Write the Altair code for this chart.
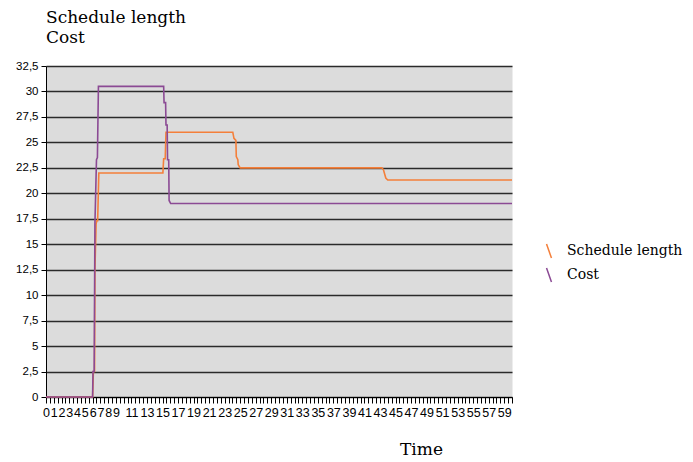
import altair as alt
import pandas as pd

# Series (time, value)
time_sched = [0, 6.0, 6.1, 6.25, 6.3, 6.45, 6.55, 6.65, 6.8, 15.05, 15.15, 15.35, 15.45, 24.05, 24.2, 24.45, 24.5, 24.7, 24.75, 25.0, 43.25, 43.45, 43.75, 44.0, 60]
val_sched = [0, 0, 2.5, 2.5, 12.5, 17.0, 17.3, 17.3, 22.0, 22.0, 23.4, 23.4, 26.0, 26.0, 25.4, 25.2, 23.6, 23.3, 22.8, 22.5, 22.5, 22.3, 21.5, 21.3, 21.3]

time_cost = [0, 6.0, 6.05, 6.2, 6.3, 6.5, 6.62, 6.75, 15.15, 15.2, 15.4, 15.45, 15.6, 15.65, 15.8, 15.85, 16.05, 60]
val_cost = [0, 0, 2.5, 2.5, 17.0, 23.3, 23.5, 30.5, 30.5, 28.9, 28.9, 26.7, 26.7, 23.3, 23.3, 19.3, 19.0, 19.0]

series_names = ["Schedule length", "Cost"]
series_colors = ["#F47F3A", "#8B4A94"]

y_ticks = [0, 2.5, 5, 7.5, 10, 12.5, 15, 17.5, 20, 22.5, 25, 27.5, 30, 32.5]
x_label_values = [0, 1, 2, 3, 4, 5, 6, 7, 8, 9] + list(range(11, 60, 2))
x_tick_values = [i * 0.5 for i in range(121)]

rows = []
for t, v in zip(time_sched, val_sched):
    rows.append({"Time": t, "value": v, "series": series_names[0], "ord": 0})
for t, v in zip(time_cost, val_cost):
    rows.append({"Time": t, "value": v, "series": series_names[1], "ord": 1})
df = pd.DataFrame(rows)

label_list = ",".join(str(v) for v in x_label_values)
x_label_expr = f"indexof([{label_list}], datum.value) >= 0 ? format(datum.value, 'd') : ''"

chart = alt.Chart(df).mark_line(strokeWidth=1.6).encode(
    x=alt.X(
        "Time:Q",
        scale=alt.Scale(domain=[0, 60], nice=False, zero=False),
        axis=alt.Axis(
            title="Time",
            values=x_tick_values,
            labelExpr=x_label_expr,
            labelOverlap=False,
            labelFlush=False,
            labelBound=False,
            labelFont="Liberation Sans",
            labelFontSize=12.5,
            labelColor="#000000",
            labelPadding=3,
            tickColor="#000000",
            tickSize=6,
            tickWidth=1,
            domainColor="#000000",
            grid=False,
            titleFont="DejaVu Serif",
            titleFontSize=17,
            titleFontWeight="normal",
            titleColor="#000000",
            titleX=375,
            titleY=57,
            titleBaseline="alphabetic",
        ),
    ),
    y=alt.Y(
        "value:Q",
        scale=alt.Scale(domain=[0, 32.5], nice=False),
        axis=alt.Axis(
            title="",
            values=y_ticks,
            labelExpr="replace(format(datum.value, '~g'), '.', ',')",
            labelFont="Liberation Sans",
            labelFontSize=11.5,
            labelColor="#000000",
            labelPadding=3,
            labelOverlap=False,
            labelFlush=False,
            tickColor="#000000",
            tickSize=5,
            domainColor="#000000",
            grid=True,
            gridColor="#2a2a2a",
            gridWidth=1.3,
        ),
    ),
    color=alt.Color(
        "series:N",
        scale=alt.Scale(domain=series_names, range=series_colors),
        legend=alt.Legend(
            title=None,
            orient="none",
            legendX=495,
            legendY=177,
            symbolType="M-0.35,-1L0.35,1",
            symbolSize=200,
            symbolStrokeWidth=1.5,
            symbolFillColor="transparent",
            labelFont="DejaVu Serif",
            labelFontSize=14,
            labelColor="#000000",
            labelOffset=10,
            rowPadding=2,
            padding=0,
        ),
    ),
    order=alt.Order("ord:Q"),
).properties(
    width=466,
    height=331,
    title=alt.TitleParams(
        text=["Schedule length", "Cost"],
        anchor="start",
        frame="group",
        font="DejaVu Serif",
        fontSize=17,
        fontWeight="normal",
        color="#000000",
        lineHeight=20,
        offset=13,
    ),
    autosize=alt.AutoSizeParams(type="none"),
    padding={"left": 38, "top": 58, "right": 172, "bottom": 64},
).configure_view(
    fill="#DCDCDC",
    stroke="transparent",
)

chart.save("out.html", embed_options={"renderer": "svg", "actions": False})
